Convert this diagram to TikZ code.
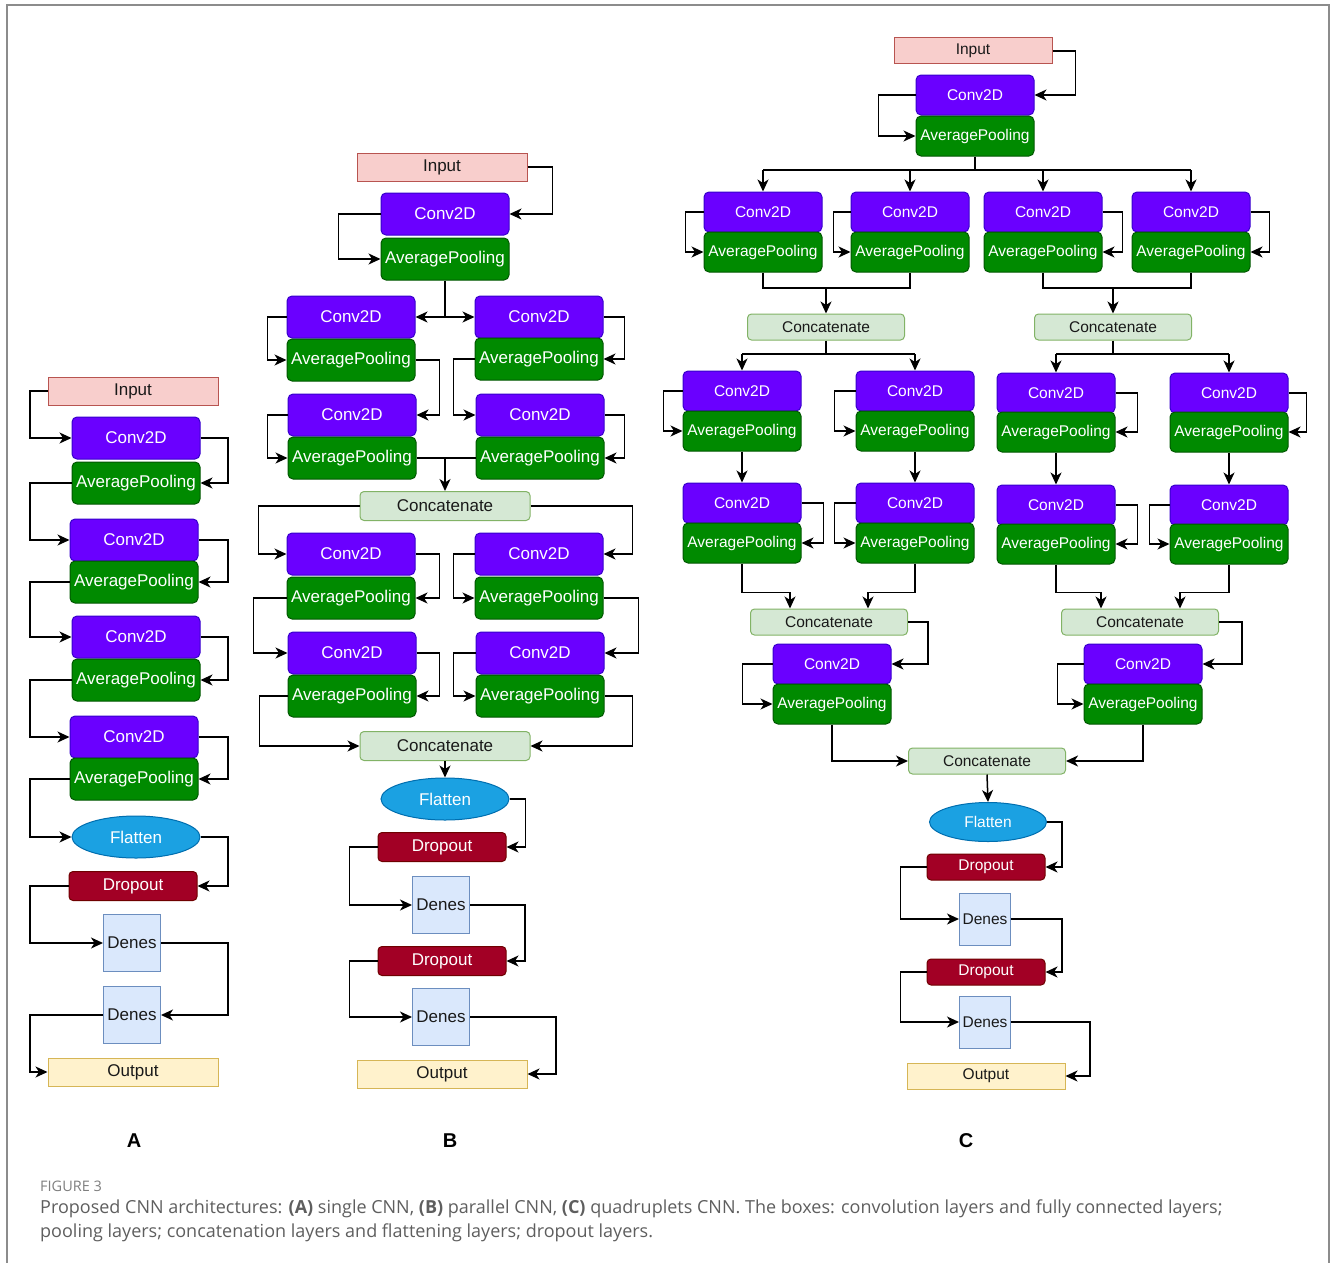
\documentclass[tikz,border=0pt]{standalone}
\usepackage{fontspec}
\setmainfont{Liberation Sans}
\newfontfamily\capfont{Open Sans}
\usetikzlibrary{arrows.meta,shapes.geometric}

\definecolor{convfill}{HTML}{6A00FF}
\definecolor{convline}{HTML}{3700CC}
\definecolor{poolfill}{HTML}{008A00}
\definecolor{poolline}{HTML}{005700}
\definecolor{infill}{HTML}{F8CECC}
\definecolor{inline}{HTML}{B85450}
\definecolor{catfill}{HTML}{D5E8D4}
\definecolor{catline}{HTML}{82B366}
\definecolor{flatfill}{HTML}{1BA1E2}
\definecolor{flatline}{HTML}{006EAF}
\definecolor{dropfill}{HTML}{A20025}
\definecolor{dropline}{HTML}{6F0000}
\definecolor{densefill}{HTML}{DAE8FC}
\definecolor{denseline}{HTML}{6C8EBF}
\definecolor{outfill}{HTML}{FFF2CC}
\definecolor{outborder}{HTML}{D6B656}
\definecolor{framecol}{HTML}{8C8C8C}
\definecolor{capgray}{HTML}{5E5E5E}

\newcommand{\pxsize}[1]{\fontsize{#1}{#1}\selectfont}

\begin{document}
\begin{tikzpicture}[x=1pt, y=-1pt,
    box/.style={draw, line width=1pt, inner sep=0pt, font=\pxsize{17}, text=black!90},
    conv/.style={box, rounded corners=5pt, fill=convfill, draw=convline, text=white, minimum width=128pt, minimum height=42pt},
    pool/.style={box, rounded corners=5pt, fill=poolfill, draw=poolline, text=white, minimum width=128pt, minimum height=42pt},
    inbox/.style={box, fill=infill, draw=inline, minimum width=170pt, minimum height=28pt},
    concat/.style={box, rounded corners=4pt, fill=catfill, draw=catline, minimum width=170pt, minimum height=29pt},
    flat/.style={box, ellipse, fill=flatfill, draw=flatline, text=white, minimum width=128pt, minimum height=42pt},
    drop/.style={box, rounded corners=4pt, fill=dropfill, draw=dropline, text=white, minimum width=128pt, minimum height=29pt},
    dense/.style={box, fill=densefill, draw=denseline, minimum width=57pt, minimum height=57pt},
    outbox/.style={box, fill=outfill, draw=outborder, minimum width=170pt, minimum height=28pt},
    small/.style={font=\pxsize{15.5}},
    link/.style={line width=1.5pt, -{Stealth[length=12pt,width=11pt,inset=3.5pt]}},
    plain/.style={line width=1.5pt}]

    \useasboundingbox (0,0) rectangle (1330,1263);
    % Frame
    \draw[framecol, line width=1.5pt] (7,1270) -- (7,5) -- (1329,5) -- (1329,1270);

    % ---------------- A: single CNN ----------------
    \node[inbox] (inA) at (133,391) {Input};
    \foreach \i/\x/\yc/\yp in {1/136/438/483, 2/134/540/582, 3/136/637/680, 4/134/737/779} {
        \node[conv] (cvA\i) at (\x,\yc) {Conv2D};
        \node[pool] (plA\i) at (\x,\yp) {AveragePooling};
    }
    \node[flat] (flA) at (136,837) {Flatten};
    \node[drop] (drA) at (133,886) {Dropout};
    \node[dense] (dnA1) at (132,943) {Denes};
    \node[dense] (dnA2) at (132,1015) {Denes};
    \node[outbox] (outA) at (133,1072) {Output};

    \coordinate (lA) at (30,0);
    \coordinate (rA) at (228,0);
    \draw[link] (inA.west) -- (inA.west -| lA) |- (cvA1.west);
    \foreach \i in {1,...,4} {
        \draw[link] (cvA\i.east) -- (cvA\i.east -| rA) |- (plA\i.east);
    }
    \foreach \i/\j in {1/2, 2/3, 3/4} {
        \draw[link] (plA\i.west) -- (plA\i.west -| lA) |- (cvA\j.west);
    }
    \draw[link] (plA4.west) -- (plA4.west -| lA) |- (flA.west);
    \draw[link] (flA.east) -- (flA.east -| rA) |- (drA.east);
    \draw[link] (drA.west) -- (drA.west -| lA) |- (dnA1.west);
    \draw[link] (dnA1.east) -- (dnA1.east -| rA) |- (dnA2.east);
    \draw[link] (dnA2.west) -- (dnA2.west -| lA) |- (outA.west);

    % ---------------- B: parallel CNN ----------------
    \node[inbox] (inB) at (442,167) {Input};
    \node[conv] (cvB0) at (445,214) {Conv2D};
    \node[pool] (plB0) at (445,259) {AveragePooling};
    \foreach \n/\x/\yc/\yp in {L1/351/317/360, L2/352/415/458, R1/539/317/359, R2/540/415/458,
                              L3/351/554/598, L4/352/653/696, R3/539/554/598, R4/540/653/696} {
        \node[conv] (cvB\n) at (\x,\yc) {Conv2D};
        \node[pool] (plB\n) at (\x,\yp) {AveragePooling};
    }
    \node[concat] (ccB1) at (445,506) {Concatenate};
    \node[concat] (ccB2) at (445,746) {Concatenate};
    \node[flat] (flB) at (445,799) {Flatten};
    \node[drop] (drB1) at (442,847) {Dropout};
    \node[dense] (dnB1) at (441,905) {Denes};
    \node[drop] (drB2) at (442,961) {Dropout};
    \node[dense] (dnB2) at (441,1017) {Denes};
    \node[outbox] (outB) at (442,1074) {Output};

    \draw[link] (inB.east) -- ++(25,0) |- (cvB0.east);
    \draw[link] (cvB0.west) -- ++(-42,0) |- (plB0.west);
    \coordinate (fkB) at (plB0.south |- cvBL1.east);
    \draw[plain] (plB0.south) -- (fkB);
    \draw[link] (fkB) -- (cvBL1.east);
    \draw[link] (fkB) -- (cvBR1.west);
    % first pair of branches
    \draw[link] (cvBL1.west) -- ++(-19,0) |- (plBL1.west);
    \draw[link] (plBL1.east) -- ++(24,0) |- (cvBL2.east);
    \draw[link] (cvBL2.west) -- ++(-20,0) |- (plBL2.west);
    \draw[link] (cvBR1.east) -- ++(21,0) |- (plBR1.east);
    \draw[link] (plBR1.west) -- ++(-21,0) |- (cvBR2.west);
    \draw[link] (cvBR2.east) -- ++(20,0) |- (plBR2.east);
    \draw[plain] (plBL2.east) -- (plBR2.west);
    \draw[link] (ccB1.north |- plBL2.east) -- (ccB1.north);
    % second pair of branches
    \draw[link] (ccB1.west) -- ++(-101,0) |- (cvBL3.west);
    \draw[link] (ccB1.east) -- ++(102,0) |- (cvBR3.east);
    \draw[link] (cvBL3.east) -- ++(24,0) |- (plBL3.east);
    \draw[link] (plBL3.west) -- ++(-33,0) |- (cvBL4.west);
    \draw[link] (cvBL4.east) -- ++(23,0) |- (plBL4.east);
    \draw[link] (cvBR3.west) -- ++(-21,0) |- (plBR3.west);
    \draw[link] (plBR3.east) -- ++(35,0) |- (cvBR4.east);
    \draw[link] (cvBR4.west) -- ++(-22,0) |- (plBR4.west);
    \draw[link] (plBL4.west) -- ++(-28,0) |- (ccB2.west);
    \draw[link] (plBR4.east) -- ++(28,0) |- (ccB2.east);
    % dense head
    \draw[link] (ccB2.south) -- (flB.north);
    \draw[link] (flB.east) -- ++(16,0) |- (drB1.east);
    \draw[link] (drB1.west) -- ++(-28,0) |- (dnB1.west);
    \draw[link] (dnB1.east) -- ++(55,0) |- (drB2.east);
    \draw[link] (drB2.west) -- ++(-28,0) |- (dnB2.west);
    \draw[link] (dnB2.east) -- ++(86,0) |- (outB.east);

    % ---------------- C: quadruplets CNN ----------------
    \begin{scope}[conv/.append style={small, minimum width=118pt, minimum height=40pt},
                  pool/.append style={small, minimum width=118pt, minimum height=40pt},
                  inbox/.append style={small, minimum width=158pt, minimum height=26pt},
                  concat/.append style={small, minimum width=157pt, minimum height=26pt},
                  flat/.append style={small, minimum width=117pt, minimum height=39pt},
                  drop/.append style={small, minimum width=118pt, minimum height=26pt},
                  dense/.append style={small, minimum width=51pt, minimum height=52pt},
                  outbox/.append style={small, minimum width=158pt, minimum height=26pt}]
    \node[inbox] (inC) at (973,51) {Input};
    \node[conv] (cvC0) at (975,95) {Conv2D};
    \node[pool] (plC0) at (975,136) {AveragePooling};
    \foreach \n/\x in {a/763, b/910, c/1043, d/1191} {
        \node[conv] (cvC1\n) at (\x,212) {Conv2D};
        \node[pool] (plC1\n) at (\x,252) {AveragePooling};
    }
    \node[concat] (ccCL) at (826,327) {Concatenate};
    \node[concat] (ccCR) at (1113,327) {Concatenate};
    \foreach \n/\x/\yc/\yp in {a/742/391/431, b/915/391/431, c/1056/393/432, d/1229/393/432} {
        \node[conv] (cvC2\n) at (\x,\yc) {Conv2D};
        \node[pool] (plC2\n) at (\x,\yp) {AveragePooling};
    }
    \foreach \n/\x/\yc/\yp in {a/742/503/543, b/915/503/543, c/1056/505/544, d/1229/505/544} {
        \node[conv] (cvC3\n) at (\x,\yc) {Conv2D};
        \node[pool] (plC3\n) at (\x,\yp) {AveragePooling};
    }
    \node[concat] (ccCL2) at (829,622) {Concatenate};
    \node[concat] (ccCR2) at (1140,622) {Concatenate};
    \node[conv] (cvC4a) at (832,664) {Conv2D};
    \node[pool] (plC4a) at (832,704) {AveragePooling};
    \node[conv] (cvC4b) at (1143,664) {Conv2D};
    \node[pool] (plC4b) at (1143,704) {AveragePooling};
    \node[concat] (ccC) at (987,761) {Concatenate};
    \node[flat] (flC) at (988,822) {Flatten};
    \node[drop] (drC1) at (986,867) {Dropout};
    \node[dense] (dnC1) at (985,919) {Denes};
    \node[drop] (drC2) at (986,972) {Dropout};
    \node[dense] (dnC2) at (985,1022) {Denes};
    \node[outbox] (outC) at (986,1076) {Output};
    \end{scope}

    \draw[link] (inC.east) -- ++(23,0) |- (cvC0.east);
    \draw[link] (cvC0.west) -- ++(-37,0) |- (plC0.west);
    % split into four
    \coordinate (busC) at (0,170);
    \draw[plain] (plC0.south) -- (plC0.south |- busC);
    \draw[plain] (cvC1a.north |- busC) -- (cvC1d.north |- busC);
    \foreach \n in {a,b,c,d} {
        \draw[link] (cvC1\n.north |- busC) -- (cvC1\n.north);
    }
    \draw[link] (cvC1a.west) -- ++(-18,0) |- (plC1a.west);
    \draw[link] (cvC1b.west) -- ++(-17,0) |- (plC1b.west);
    \draw[link] (cvC1c.east) -- ++(20,0) |- (plC1c.east);
    \draw[link] (cvC1d.east) -- ++(19,0) |- (plC1d.east);
    % merge pairs
    \coordinate (mgC) at (0,288);
    \draw[plain] (plC1a.south) -- (plC1a.south |- mgC) -- (plC1b.south |- mgC) -- (plC1b.south);
    \draw[plain] (plC1c.south) -- (plC1c.south |- mgC) -- (plC1d.south |- mgC) -- (plC1d.south);
    \draw[link] (ccCL.north |- mgC) -- (ccCL.north);
    \draw[link] (ccCR.north |- mgC) -- (ccCR.north);
    % split again
    \coordinate (fnC) at (0,354);
    \draw[plain] (ccCL.south) -- (ccCL.south |- fnC);
    \draw[plain] (ccCR.south) -- (ccCR.south |- fnC);
    \draw[plain] (cvC2a.north |- fnC) -- (cvC2b.north |- fnC);
    \draw[plain] (cvC2c.north |- fnC) -- (cvC2d.north |- fnC);
    \foreach \n in {a,b,c,d} {
        \draw[link] (cvC2\n.north |- fnC) -- (cvC2\n.north);
        \draw[link] (plC2\n.south) -- (cvC3\n.north);
    }
    \draw[link] (cvC2a.west) -- ++(-19,0) |- (plC2a.west);
    \draw[link] (cvC2b.west) -- ++(-21,0) |- (plC2b.west);
    \draw[link] (cvC2c.east) -- ++(22,0) |- (plC2c.east);
    \draw[link] (cvC2d.east) -- ++(18,0) |- (plC2d.east);
    \draw[link] (cvC3a.east) -- ++(22,0) |- (plC3a.east);
    \draw[link] (cvC3b.west) -- ++(-21,0) |- (plC3b.west);
    \draw[link] (cvC3c.east) -- ++(22,0) |- (plC3c.east);
    \draw[link] (cvC3d.west) -- ++(-20,0) |- (plC3d.west);
    \draw[link] (plC3a.south) -- ++(0,29) -| ([xshift=-39pt]ccCL2.north);
    \draw[link] (plC3b.south) -- ++(0,29) -| ([xshift=39pt]ccCL2.north);
    \draw[link] (plC3c.south) -- ++(0,28) -| ([xshift=-39pt]ccCR2.north);
    \draw[link] (plC3d.south) -- ++(0,28) -| ([xshift=40pt]ccCR2.north);
    % last conv blocks
    \draw[link] (ccCL2.east) -- ++(20,0) |- (cvC4a.east);
    \draw[link] (cvC4a.west) -- ++(-30,0) |- (plC4a.west);
    \draw[link] (ccCR2.east) -- ++(23,0) |- (cvC4b.east);
    \draw[link] (cvC4b.west) -- ++(-26,0) |- (plC4b.west);
    \draw[link] (plC4a.south) |- (ccC.west);
    \draw[link] (plC4b.south) |- (ccC.east);
    % dense head
    \draw[link] (ccC.south) -- (flC.north);
    \draw[link] (flC.east) -- ++(15,0) |- (drC1.east);
    \draw[link] (drC1.west) -- ++(-26,0) |- (dnC1.west);
    \draw[link] (dnC1.east) -- ++(51,0) |- (drC2.east);
    \draw[link] (drC2.west) -- ++(-26,0) |- (dnC2.west);
    \draw[link] (dnC2.east) -- ++(79,0) |- (outC.east);

    % Panel letters
    \node[font=\pxsize{20}\bfseries] (tagA) at (134,1141) {A};
    \node[font=\pxsize{20}\bfseries] (tagB) at (450,1141) {B};
    \node[font=\pxsize{20}\bfseries] (tagC) at (966,1141) {C};

    % Caption
    \node[anchor=west, inner sep=0pt, text=capgray!80, font=\capfont\pxsize{14.5}] (fig) at (40,1186) {FIGURE 3};
    \node[anchor=west, inner sep=0pt, text=capgray, font=\capfont\pxsize{18}] (capa) at (40,1209)
        {Proposed CNN architectures: \textbf{(A)} single CNN, \textbf{(B)} parallel CNN, \textbf{(C)} quadruplets CNN. The boxes: convolution layers and fully connected layers;};
    \node[anchor=west, inner sep=0pt, text=capgray, font=\capfont\pxsize{18}] (capb) at (40,1233)
        {pooling layers; concatenation layers and flattening layers; dropout layers.};
\end{tikzpicture}
\end{document}
